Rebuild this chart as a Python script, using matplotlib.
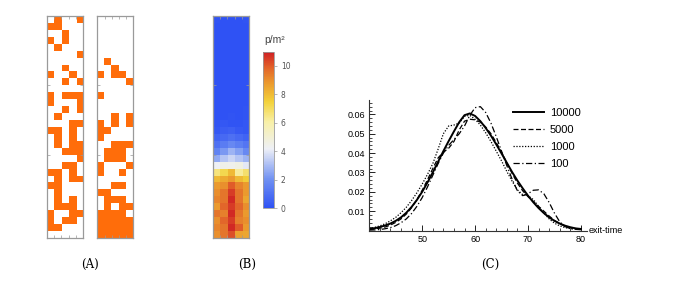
import matplotlib
matplotlib.use("Agg")
import matplotlib.pyplot as plt
import numpy as np
from matplotlib.colors import ListedColormap, LinearSegmentedColormap
from matplotlib.ticker import MultipleLocator

# (A) occupancy grids, top row first, 1 = occupied cell
grid_left = [
    "01001", "11000", "00100", "10100", "01000", "00001", "00000", "00100",
    "10010", "00101", "00000", "10111", "10001", "00101", "01000", "00011",
    "11010", "01010", "01011", "00111", "00001", "00110", "11010", "01011",
    "11000", "01000", "01010", "01110", "10011", "10110", "11000", "00000",
]
grid_right = [
    "00000", "00000", "00000", "00000", "00000", "00000", "01000", "00100",
    "10110", "00001", "00000", "10000", "00000", "00000", "00101", "10101",
    "11000", "10000", "00111", "01110", "01110", "10001", "10010", "00000",
    "00110", "11000", "01110", "01011", "11110", "11111", "11111", "11111",
]

# (B) density, persons per m^2, top row first
density = [
    [0.1, 0.0, 0.0, 0.0, 0.1], [0.0, 0.0, 0.0, 0.0, 0.0],
    [0.0, 0.0, 0.0, 0.0, 0.0], [0.0, 0.0, 0.0, 0.0, 0.0],
    [0.0, 0.0, 0.0, 0.0, 0.0], [0.0, 0.0, 0.0, 0.0, 0.0],
    [0.0, 0.0, 0.0, 0.0, 0.0], [0.0, 0.0, 0.0, 0.0, 0.0],
    [0.0, 0.0, 0.0, 0.0, 0.0], [0.0, 0.0, 0.0, 0.0, 0.0],
    [0.0, 0.0, 0.0, 0.0, 0.0], [0.0, 0.0, 0.0, 0.0, 0.0],
    [0.0, 0.0, 0.0, 0.0, 0.0], [0.0, 0.0, 0.0, 0.0, 0.1],
    [0.0, 0.0, 0.1, 0.0, 0.1], [0.1, 0.2, 0.1, 0.1, 0.2],
    [0.2, 0.4, 0.5, 0.3, 0.2], [0.6, 0.8, 1.0, 0.8, 0.6],
    [1.0, 1.4, 1.8, 1.5, 1.2], [1.6, 2.2, 2.8, 2.4, 1.8],
    [2.6, 3.2, 3.6, 3.2, 2.8], [4.2, 4.5, 4.4, 4.6, 4.0],
    [6.6, 7.2, 8.0, 6.2, 6.8], [8.0, 8.4, 8.8, 8.0, 7.6],
    [8.8, 9.0, 10.0, 9.2, 8.8], [9.0, 9.5, 10.5, 9.5, 8.8],
    [9.2, 9.5, 10.8, 9.5, 8.5], [8.8, 9.8, 10.5, 9.8, 9.0],
    [9.5, 9.3, 10.8, 9.5, 8.8], [9.0, 9.8, 10.5, 9.3, 9.0],
    [9.2, 9.5, 10.8, 10.0, 8.8], [9.0, 9.5, 10.2, 8.6, 8.5],
]

# (C) exit-time distributions
exit_time = list(range(40, 81))
p_10000 = [0.0008, 0.0012, 0.0018, 0.0026, 0.0036, 0.0050, 0.0068, 0.0092, 0.0122, 0.0158,
           0.0200, 0.0248, 0.0300, 0.0355, 0.0410, 0.0462, 0.0512, 0.0560, 0.0596, 0.0605,
           0.0592, 0.0565, 0.0530, 0.0490, 0.0445, 0.0398, 0.0350, 0.0302, 0.0258, 0.0218,
           0.0180, 0.0146, 0.0116, 0.0090, 0.0068, 0.0050, 0.0036, 0.0025, 0.0017, 0.0011, 0.0008]
p_5000 = [0.0005, 0.0008, 0.0012, 0.0018, 0.0028, 0.0042, 0.0060, 0.0085, 0.0118, 0.0160,
          0.0208, 0.0262, 0.0320, 0.0375, 0.0405, 0.0425, 0.0460, 0.0520, 0.0565, 0.0575,
          0.0572, 0.0560, 0.0535, 0.0500, 0.0455, 0.0405, 0.0350, 0.0295, 0.0245, 0.0205,
          0.0175, 0.0150, 0.0125, 0.0100, 0.0075, 0.0052, 0.0035, 0.0022, 0.0014, 0.0010, 0.0008]
p_1000 = [0.0010, 0.0016, 0.0024, 0.0035, 0.0050, 0.0068, 0.0092, 0.0120, 0.0155, 0.0195,
          0.0240, 0.0290, 0.0345, 0.0420, 0.0500, 0.0540, 0.0545, 0.0555, 0.0590, 0.0595,
          0.0575, 0.0545, 0.0505, 0.0460, 0.0410, 0.0360, 0.0305, 0.0255, 0.0210, 0.0185,
          0.0180, 0.0160, 0.0125, 0.0090, 0.0060, 0.0038, 0.0024, 0.0015, 0.0010, 0.0007, 0.0005]
p_100 = [0.0002, 0.0003, 0.0005, 0.0009, 0.0015, 0.0025, 0.0040, 0.0060, 0.0088, 0.0125,
         0.0170, 0.0225, 0.0285, 0.0345, 0.0400, 0.0440, 0.0470, 0.0500, 0.0540, 0.0595,
         0.0635, 0.0640, 0.0610, 0.0555, 0.0485, 0.0410, 0.0335, 0.0265, 0.0205, 0.0180,
         0.0190, 0.0208, 0.0210, 0.0190, 0.0145, 0.0090, 0.0045, 0.0020, 0.0010, 0.0006, 0.0004]
labels = ["10000", "5000", "1000", "100"]

W, H = 686, 287
fig = plt.figure(figsize=(W / 100, H / 100), dpi=100)


def px_axes(x0, y0, x1, y1):
    # pixel box (top-left origin) -> figure axes
    return fig.add_axes([x0 / W, 1 - y1 / H, (x1 - x0) / W, (y1 - y0) / H])


frame_col = "#9a9a9a"


def grid_frame(ax, nrows, ncols):
    for s in ax.spines.values():
        s.set_color(frame_col)
        s.set_linewidth(0.9)
    ax.set_xticks(np.arange(0, ncols + 1) - 0.5)
    ax.set_yticks([9.5, 19.5])
    ax.tick_params(direction="in", length=2, width=0.5, color=frame_col,
                   top=True, right=True, labelbottom=False, labelleft=False)


occ_cmap = ListedColormap(["white", "#ff6d0a"])
for g, (x0, x1) in [(grid_left, (47, 83)), (grid_right, (97.3, 133.3))]:
    arr = np.array([[int(c) for c in row] for row in g])
    ax = px_axes(x0, 16, x1, 238)
    ax.imshow(arr, cmap=occ_cmap, vmin=0, vmax=1, aspect="auto", interpolation="nearest")
    grid_frame(ax, arr.shape[0], arr.shape[1])

# (B) heatmap
dens_cmap = LinearSegmentedColormap.from_list("dens", [
    (0.0, "#2f52f4"), (0.18, "#6e8ff2"), (0.38, "#eef0f6"),
    (0.55, "#f8f0a8"), (0.68, "#f3d23a"), (0.8, "#eb9a2e"),
    (0.9, "#e2632a"), (1.0, "#cf1f24")])
axb = px_axes(212.7, 16, 249.3, 238)
im = axb.imshow(np.array(density), cmap=dens_cmap, vmin=0, vmax=11,
                aspect="auto", interpolation="nearest")
grid_frame(axb, 32, 5)

cax = px_axes(263.3, 51.7, 274, 208.3)
cb = fig.colorbar(im, cax=cax, ticks=[0, 2, 4, 6, 8, 10])
cb.outline.set_edgecolor(frame_col)
cb.outline.set_linewidth(0.6)
cax.tick_params(length=2, width=0.5, color=frame_col, labelsize=5.5,
                labelcolor="#555555", pad=3)
fig.text(264 / W, 1 - 40 / H, "p/m²", fontsize=7.5, color="#444444",
         va="center", ha="left", family="Liberation Sans")

# (C) exit-time distributions
axc = px_axes(369.3, 99.5, 586.7, 230.5)
axc.plot(exit_time, p_10000, color="black", lw=1.4, label=labels[0])
axc.plot(exit_time, p_5000, color="black", lw=0.9, ls=(0, (4, 2)), label=labels[1])
axc.plot(exit_time, p_1000, color="black", lw=0.9, ls=(0, (1, 1.3)), label=labels[2])
axc.plot(exit_time, p_100, color="black", lw=0.9, ls=(0, (5, 2, 1, 2)), label=labels[3])
axc.set_xlim(40, 81.1)
axc.set_ylim(0, 0.0677)
axc.spines["top"].set_visible(False)
axc.spines["right"].set_visible(False)
for s in ("left", "bottom"):
    axc.spines[s].set_linewidth(0.8)
    axc.spines[s].set_color("#333333")
axc.set_xticks([50, 60, 70, 80])
axc.set_yticks([0.01, 0.02, 0.03, 0.04, 0.05, 0.06])
axc.set_yticklabels(["0.01", "0.02", "0.03", "0.04", "0.05", "0.06"])
axc.xaxis.set_minor_locator(MultipleLocator(2))
axc.yaxis.set_minor_locator(MultipleLocator(0.002))
axc.tick_params(which="major", direction="in", length=4, width=0.6, labelsize=6.5, pad=3)
axc.tick_params(which="minor", direction="in", length=2, width=0.5)
for t in axc.get_xticklabels() + axc.get_yticklabels():
    t.set_family("Liberation Sans")
axc.text(81.4, 0, "exit-time", fontsize=6.5, va="center", ha="left",
         family="Liberation Sans", clip_on=False)
leg = axc.legend(loc="upper left", bbox_to_anchor=(513 / W, 1 - 108 / H),
                 bbox_transform=fig.transFigure, frameon=False,
                 handlelength=2.8, handletextpad=0.5, labelspacing=0.62,
                 borderpad=0, borderaxespad=0, prop={"family": "Liberation Sans", "size": 8})

for x, s in [(90, "(A)"), (247, "(B)"), (490, "(C)")]:
    fig.text(x / W, 1 - 264 / H, s, fontsize=8.5, ha="center", va="center",
             family="DejaVu Serif")

fig.savefig("out.png", dpi=100)
